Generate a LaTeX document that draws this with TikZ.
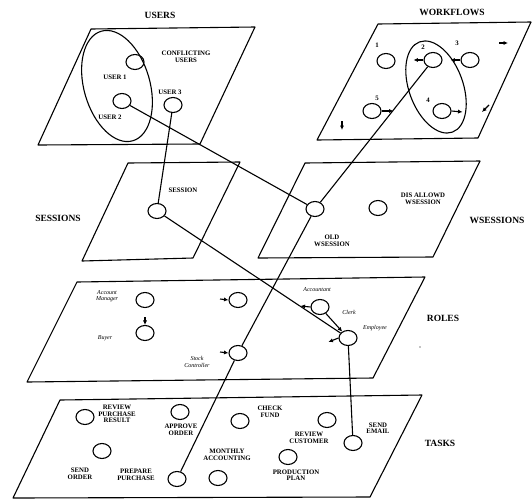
\documentclass[tikz,border=0pt]{standalone}
\usepackage{fontspec}
\setmainfont{Liberation Serif}
\usetikzlibrary{shapes.geometric,arrows.meta}
\begin{document}
\begin{tikzpicture}[x=1pt,y=-1pt,
 plane/.style={draw,line width=1.1pt,line join=round},
 ent/.style={draw,ellipse,line width=1.1pt,minimum width=18pt,minimum height=15pt,inner sep=0pt},
 lbl/.style={font=\fontsize{6.8}{6.5}\selectfont\bfseries,align=center,inner sep=0pt},
 ilbl/.style={font=\fontsize{6}{6.5}\selectfont\itshape,align=center,inner sep=0pt},
 ttl/.style={font=\fontsize{9.5}{10}\selectfont\bfseries,inner sep=0pt},
 link/.style={line width=1.1pt},
 arr/.style={line width=1.1pt,-{Latex[length=4.5pt,width=4.2pt]}}
]
\useasboundingbox (0,0) rectangle (532,501);
% planes
\draw[plane] (91,29) -- (255,27) -- (200,144) -- (38,145) -- cycle;
\draw[plane] (378,24) -- (531,22) -- (478,138) -- (317,140) -- cycle;
\draw[plane] (128,163) -- (240,162) -- (193,258) -- (82,261) -- cycle;
\draw[plane] (305,163) -- (480,161) -- (433,257) -- (258,258) -- cycle;
\draw[plane] (77,282) -- (425,277) -- (373,378) -- (27,382) -- cycle;
\draw[plane] (60,400) -- (422,395) -- (370,497) -- (13,498) -- cycle;
% titles
\node[ttl] (tUsers) at (160,15) {USERS};
\node[ttl] (tWf) at (452,12) {WORKFLOWS};
\node[ttl] (tSes) at (58,218) {SESSIONS};
\node[ttl] (tWs) at (497,220) {WSESSIONS};
\node[ttl] (tRoles) at (443,318) {ROLES};
\node[ttl] (tTasks) at (440,443) {TASKS};
% USERS
\node[draw,ellipse,line width=1.1pt,minimum width=66pt,minimum height=114pt,rotate=16] (conf) at (117,86) {};
\node[ent] (u1) at (135,62) {};
\node[ent] (u2) at (122,101) {};
\node[ent] (u3) at (173,105) {};
\node[lbl] (lu1) at (115,77) {USER 1};
\node[lbl] (lu2) at (110,117) {USER 2};
\node[lbl] (lu3) at (170,92) {USER 3};
\node[lbl] (lconf) at (186,57) {CONFLICTING\\USERS};
% WORKFLOWS
\node[draw,ellipse,line width=1.1pt,minimum width=54pt,minimum height=96pt,rotate=20] (wfe) at (436,87) {};
\node[ent] (w1) at (386,61) {};
\node[ent] (w2) at (433,60) {};
\node[ent] (w3) at (470,60) {};
\node[ent] (w4) at (442,111) {};
\node[ent] (w5) at (372,111) {};
\node[lbl] (lw1) at (377,45) {1};
\node[lbl] (lw2) at (423,47) {2};
\node[lbl] (lw3) at (457,43) {3};
\node[lbl] (lw4) at (428,100) {4};
\node[lbl] (lw5) at (377,98) {5};
\draw[arr] (w3.west) -- ++(-10,0);
\draw[arr] (w2.west) -- ++(-10,0);
\draw[arr] (w5.east) -- ++(12,0);
\draw[arr] (w4.east) -- ++(11,1);
\coordinate (s1a) at (499,43); \coordinate (s1b) at (508,43);
\coordinate (s2a) at (342,121); \coordinate (s2b) at (342,130);
\coordinate (s3a) at (489,105); \coordinate (s3b) at (482,112);
\draw[arr] (s1a) -- (s1b);
\draw[arr] (s2a) -- (s2b);
\draw[arr] (s3a) -- (s3b);
% SESSIONS
\node[ent] (ses) at (157,211) {};
\node[lbl] (lses) at (183,190) {SESSION};
% WSESSIONS
\node[ent] (old) at (315,209) {};
\node[ent] (dis) at (378,208) {};
\node[lbl] (lold) at (332,241) {OLD\\WSESSION};
\node[lbl] (ldis) at (423,199) {DIS ALLOWD\\WSESSION};
% ROLES
\node[ent] (am) at (145,300) {};
\node[ent] (buy) at (145,333) {};
\node[ent] (r3) at (238,300) {};
\node[ent] (stock) at (238,353) {};
\node[ent] (clerk) at (320,307) {};
\node[ent] (emp) at (348,338) {};
\node[ilbl] (lam) at (107,296) {Account\\Manager};
\node[ilbl] (lbuy) at (105,338) {Buyer};
\node[ilbl] (lstock) at (197,362) {Stock\\Controller};
\node[ilbl] (lacc) at (317,290) {Accountant};
\node[ilbl] (lclerk) at (349,312) {Clerk};
\node[ilbl] (lemp) at (375,328) {Employee};
\coordinate (bA) at (145,317);
\draw[arr] (bA) -- (buy.north);
\coordinate (r3A) at (220,299);
\draw[arr] (r3A) -- (r3.west);
\coordinate (stA) at (220,352);
\draw[arr] (stA) -- (stock.west);
\draw[arr] (clerk.west) -- ++(-10,-1);
\draw[arr] (emp.west) -- ++(-10,4);
\draw[arr] (clerk) -- (emp);
\coordinate (dot) at (420,347);
\fill (dot) circle (0.6pt);
% TASKS
\node[ent] (rpr) at (85,417) {};
\node[ent] (ao) at (180,412) {};
\node[ent] (so) at (102,451) {};
\node[ent] (pp) at (177,479) {};
\node[ent] (cf) at (240,421) {};
\node[ent] (ma) at (218,478) {};
\node[ent] (prp) at (288,457) {};
\node[ent] (rc) at (327,420) {};
\node[ent] (se) at (353,443) {};
\node[lbl] (lrpr) at (117,414) {REVIEW\\PURCHASE\\RESULT};
\node[lbl] (lao) at (181,430) {APPROVE\\ORDER};
\node[lbl] (lso) at (80,474) {SEND\\ORDER};
\node[lbl] (lpp) at (136,475) {PREPARE\\PURCHASE};
\node[lbl] (lcf) at (270,412) {CHECK\\FUND};
\node[lbl] (lma) at (227,455) {MONTHLY\\ACCOUNTING};
\node[lbl] (lprp) at (296,475) {PRODUCTION\\PLAN};
\node[lbl] (lrc) at (309,438) {REVIEW\\CUSTOMER};
\node[lbl] (lse) at (378,428) {SEND\\EMAIL};
% connectors
\draw[link] (u2) -- (old);
\draw[link] (u3) -- (ses);
\draw[link] (ses) -- (emp);
\draw[link] (w2) -- (old);
\draw[link] (old) -- (stock);
\draw[link] (stock) -- (pp);
\draw[link] (emp) -- (se);
\end{tikzpicture}
\end{document}
